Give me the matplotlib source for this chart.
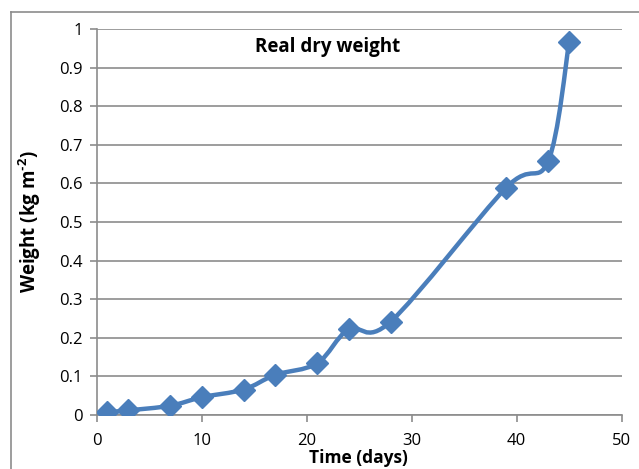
import numpy as np
import matplotlib
matplotlib.use("Agg")
import matplotlib.pyplot as plt
from matplotlib.path import Path
from matplotlib.patches import PathPatch
from matplotlib.lines import Line2D

days = [1, 3, 7, 10, 14, 17, 21, 24, 28, 39, 43, 45]
weight = [0.007, 0.012, 0.024, 0.046, 0.066, 0.104, 0.134, 0.222, 0.242, 0.589, 0.658, 0.967]
x_ticks = [0, 10, 20, 30, 40, 50]
y_ticks = [0, 0.1, 0.2, 0.3, 0.4, 0.5, 0.6, 0.7, 0.8, 0.9, 1]
y_tick_labels = ["0", "0.1", "0.2", "0.3", "0.4", "0.5", "0.6", "0.7", "0.8", "0.9", "1"]

plt.rcParams['font.family'] = ['Open Sans', 'DejaVu Sans']
plt.rcParams['mathtext.fontset'] = 'custom'
plt.rcParams['mathtext.bf'] = 'Open Sans:bold'
plt.rcParams['mathtext.rm'] = 'Open Sans'
color = "#4a7ebb"
grid_c = "#8c8c8c"

fig = plt.figure(figsize=(6.39, 4.69), dpi=100)
ax = fig.add_axes([96.7/639, 1-415/469, 525/639, 386/469])
ax.set_xlim(0, 50)
ax.set_ylim(0, 1)

# Smoothed line (Catmull-Rom style Bezier like Excel)
P = np.column_stack([days, weight]).astype(float)
verts = [P[0]]
codes = [Path.MOVETO]
n = len(P)
for i in range(n - 1):
    p0 = P[i - 1] if i > 0 else P[i]
    p1 = P[i]
    p2 = P[i + 1]
    p3 = P[i + 2] if i + 2 < n else P[i + 1]
    c1 = p1 + (p2 - p0) / 6.0
    c2 = p2 - (p3 - p1) / 6.0
    verts += [c1, c2, p2]
    codes += [Path.CURVE4] * 3
path = Path(verts, codes)
ax.add_patch(PathPatch(path, facecolor='none', edgecolor=color, lw=3.2, zorder=3, capstyle='round'))
ax.plot(days, weight, linestyle='none', marker='D', markersize=11.5, color=color, zorder=4)

ax.set_xticks(x_ticks)
ax.set_yticks(y_ticks)
ax.set_yticklabels(y_tick_labels)
ax.grid(axis='y', color=grid_c, lw=1.2)
ax.set_axisbelow(True)
for s in ['top', 'right']:
    ax.spines[s].set_visible(False)
for s in ['left', 'bottom']:
    ax.spines[s].set_color(grid_c)
    ax.spines[s].set_linewidth(1.2)
ax.tick_params(axis='both', direction='out', length=5, width=1.2, color=grid_c,
               labelsize=12, labelcolor='black')
ax.tick_params(axis='x', pad=8)
ax.tick_params(axis='y', pad=5)

ax.text((328-96.7)/525, (415-46.7)/386, "Real dry weight", transform=ax.transAxes,
        ha='center', va='center', fontsize=13.5, fontweight='bold')
fig.text(30/639, 1-222/469, "Weight (kg m$^{\\mathbf{\u2010}\\mathbf{2}}$)", rotation=90, ha='center', va='center',
         fontsize=13.5, fontweight='bold')
fig.text(358/639, 1-458/469, "Time (days)", ha='center', va='center', fontsize=12.5, fontweight='bold')

fig.add_artist(Line2D([11/639, 11/639], [0, 1-12/469], transform=fig.transFigure, color=grid_c, lw=1.2))
fig.add_artist(Line2D([11/639, 1], [1-12/469, 1-12/469], transform=fig.transFigure, color=grid_c, lw=1.2))

fig.savefig("out.png", dpi=100, facecolor='white')
